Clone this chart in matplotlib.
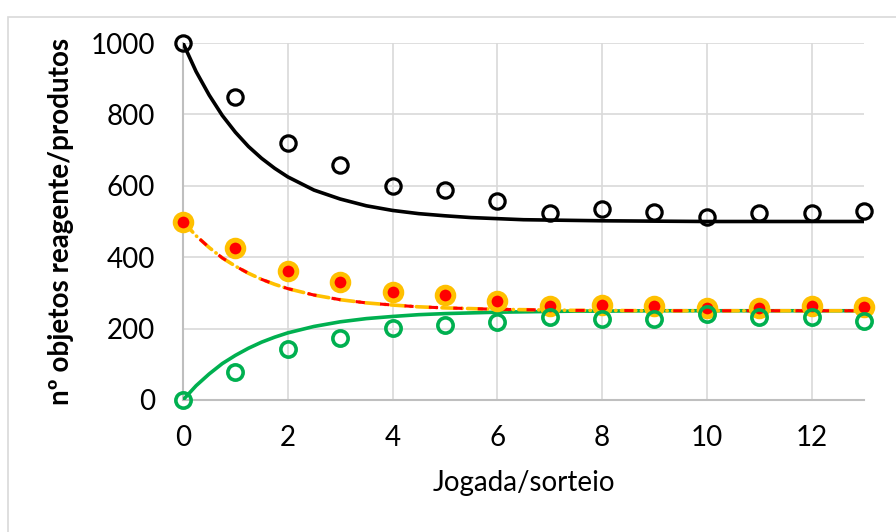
import numpy as np
import matplotlib.pyplot as plt
from matplotlib.patches import Rectangle

plt.rcParams['font.family'] = ['Lato', 'DejaVu Sans']

# dados experimentais (jogadas)
jogada = [0, 1, 2, 3, 4, 5, 6, 7, 8, 9, 10, 11, 12, 13]
reagente = [1000, 849, 720, 658, 600, 588, 557, 524, 535, 527, 513, 524, 524, 529]
produto1 = [500, 425, 360, 330, 302, 294, 276, 262, 265, 263, 259, 259, 262, 261]
produto2 = [0, 78, 143, 174, 202, 210, 219, 233, 227, 228, 240, 232, 232, 222]

# curvas teóricas
t_mod = [0, 0.25, 0.5, 0.75, 1, 1.25, 1.5, 1.75, 2, 2.5, 3, 3.5, 4, 4.5, 5,
         5.5, 6, 6.5, 7, 7.5, 8, 9, 10, 11, 12, 13]
reag_mod = [1000, 920, 854, 797, 750, 710, 677, 649, 625, 588, 563, 544, 531,
            522, 516, 511, 508, 505, 504, 503, 502, 501, 500, 500, 500, 500]
prod_mod = [500, 460, 427, 398, 375, 355, 338, 324, 312, 294, 281, 272, 266,
            261, 258, 256, 254, 253, 252, 251, 251, 250, 250, 250, 250, 250]
prod2_mod = [0, 40, 73, 102, 125, 145, 162, 176, 188, 206, 219, 228, 234, 239,
             242, 244, 246, 247, 248, 249, 249, 250, 250, 250, 250, 250]

fig = plt.figure(figsize=(8.96, 5.32), dpi=100)
fig.patches.append(Rectangle((8 / 896, -0.1), 1.0, 1 - 17 / 532 + 0.1,
                             transform=fig.transFigure, fill=False,
                             edgecolor='#D9D9D9', linewidth=1.2))
ax = fig.add_axes([183 / 896, 1 - 400 / 532, (864 - 183) / 896, 357 / 532])

ax.plot(t_mod, reag_mod, color='black', lw=2.6, zorder=3)
ax.plot(t_mod, prod2_mod, color='#00B050', lw=2.6, zorder=3)
ax.plot(t_mod, prod_mod, color='#FFC000', lw=2.6, dashes=(4, 1.5, 0.1, 1.5),
        dash_capstyle='round', zorder=3)
ax.plot(t_mod, prod_mod, color='#FF0000', lw=2.2, dashes=(3, 5), zorder=3)

ax.plot(jogada, reagente, 'o', ms=11, mfc='none', mec='black', mew=2.3,
        clip_on=False, zorder=4)
ax.plot(jogada, produto1, 'o', ms=12, mfc='#FF0000', mec='#FFC000', mew=3.5,
        clip_on=False, zorder=4)
ax.plot(jogada, produto2, 'o', ms=11, mfc='none', mec='#00B050', mew=2.6,
        clip_on=False, zorder=4)

ax.set_xlim(0, 13)
ax.set_ylim(0, 1000)
ax.set_xticks(range(0, 13, 2))
ax.set_yticks(range(0, 1001, 200))
ax.grid(True, color='#D9D9D9', lw=1.2)
ax.set_axisbelow(True)
for s in ['top', 'right']:
    ax.spines[s].set_visible(False)
ax.spines['left'].set_color('#BFBFBF')
ax.spines['bottom'].set_color('#BFBFBF')
ax.spines['left'].set_linewidth(1.5)
ax.spines['bottom'].set_linewidth(1.5)
ax.tick_params(length=0, labelsize=20, colors='black')
ax.tick_params(axis='y', pad=20)
ax.tick_params(axis='x', pad=18)

ax.set_xlabel('Jogada/sorteio', fontsize=20, labelpad=14)
ax.set_ylabel('nº objetos reagente/produtos', fontsize=20, fontweight='bold',
              labelpad=12)

fig.savefig('out.png', dpi=100)
